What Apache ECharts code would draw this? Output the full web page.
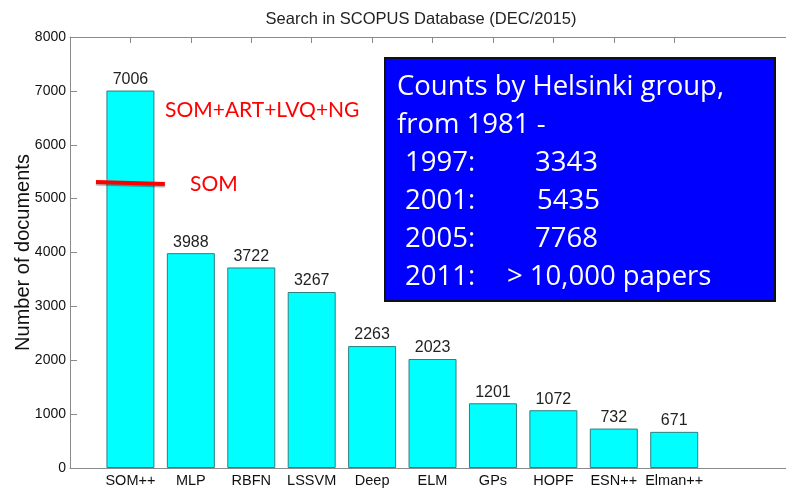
<!DOCTYPE html>
<html><head><meta charset="utf-8">
<script src="https://cdn.jsdelivr.net/npm/echarts@6/dist/echarts.min.js"></script>
<style>html,body{margin:0;padding:0;background:#fff}#c{width:786px;height:491px}</style>
</head><body><div id="c"></div>
<script>
const categories = ['SOM++','MLP','RBFN','LSSVM','Deep','ELM','GPs','HOPF','ESN++','Elman++'];
const counts = [7006,3988,3722,3267,2263,2023,1201,1072,732,671];
const yTicks = [0,1000,2000,3000,4000,5000,6000,7000,8000];
const boxLines = ['Counts by Helsinki group,','from 1981 -'];
const boxYears = ['1997:','2001:','2005:','2011:'];
const boxValues = ['3343','5435','7768','> 10,000 papers'];
const somLevel = 5290;

const chart = echarts.init(document.getElementById('c'));
const data = counts.map((v,i)=>[i+1,v]);
const catPos = categories.map((c,i)=>i+1);
const font = 'Liberation Sans, Arial, sans-serif';
const axisCol = '#8a8a8a';
const boxFont = '"Open Sans", sans-serif';
const redFont = 'Lato, sans-serif';
const BF = 27.5;
const off = 8;
const graphics = [
  {type:'rect', shape:{x:385,y:58,width:390,height:243}, style:{fill:'#0000ff', stroke:'#111', lineWidth:2}, z:10},
  {type:'text', x:397, y:95-off, style:{text:boxLines[0], fill:'#fff', font:BF+'px '+boxFont, textVerticalAlign:'middle'}, z:11},
  {type:'text', x:397, y:133-off, style:{text:boxLines[1], fill:'#fff', font:BF+'px '+boxFont, textVerticalAlign:'middle'}, z:11}
];
const valX = [535,537,535,507];
boxYears.forEach((y,i)=>{
  const by = 171 + i*38 - off;
  graphics.push({type:'text', x:405, y:by, style:{text:y, fill:'#fff', font:BF+'px '+boxFont, textVerticalAlign:'middle'}, z:11});
  graphics.push({type:'text', x:valX[i], y:by, style:{text:boxValues[i], fill:'#fff', font:BF+'px '+boxFont, textVerticalAlign:'middle'}, z:11});
});
graphics.push({type:'text', x:165, y:110, style:{text:'SOM+ART+LVQ+NG', fill:'#ff0000', font:'21px '+redFont, textVerticalAlign:'middle'}, z:11});
graphics.push({type:'text', x:190, y:184, style:{text:'SOM', fill:'#ff0000', font:'21px '+redFont, textVerticalAlign:'middle'}, z:11});

chart.setOption({
  animation:false,
  title:{text:'Search in SCOPUS Database (DEC/2015)', left:416, top:6, textAlign:'center',
    textStyle:{fontFamily:font, fontSize:16.5, fontWeight:'normal', color:'#222'}},
  grid:{left:70, right:0, top:37, bottom:23, containLabel:false, outerBoundsMode:'none'},
  xAxis:[
    {type:'value', min:0, max:11.85, interval:1, position:'bottom',
     axisLine:{lineStyle:{color:axisCol, width:1}},
     axisTick:{inside:true, length:6, lineStyle:{color:axisCol}, customValues:catPos},
     splitLine:{show:false},
     axisLabel:{margin:5, fontFamily:font, fontSize:14.5, color:'#111', customValues:catPos,
       formatter:v=>{const i=Math.round(v)-1;return (i>=0&&i<categories.length)?categories[i]:'';}}},
    {type:'value', min:0, max:11.85, interval:1, position:'top',
     axisLine:{lineStyle:{color:axisCol, width:1}},
     axisTick:{inside:true, length:6, lineStyle:{color:axisCol}, customValues:catPos},
     axisLabel:{show:false}, splitLine:{show:false}}
  ],
  yAxis:{type:'value', min:yTicks[0], max:yTicks[yTicks.length-1], interval:1000,
    name:'Number of documents', nameLocation:'middle', nameGap:37, nameRotate:90, nameMoveOverlap:false,
    nameTextStyle:{fontFamily:font, fontSize:20, color:'#111'},
    axisLine:{show:true, lineStyle:{color:axisCol}},
    axisTick:{show:true, inside:true, length:7, lineStyle:{color:axisCol}},
    axisLabel:{fontFamily:font, fontSize:14, color:'#111', margin:4, formatter:v=>String(v)},
    splitLine:{show:false}},
  series:[{
    type:'bar', data:data, barWidth:48,
    itemStyle:{color:'#00ffff', borderColor:'#2f7f7f', borderWidth:1},
    label:{show:true, position:'top', distance:3, fontFamily:font, fontSize:16, color:'#222',
      formatter:p=>p.value[1]},
    markLine:{silent:true, symbol:'none', label:{show:false},
      lineStyle:{color:'#ff0000', width:4, type:'solid', shadowColor:'rgba(0,0,0,0.35)', shadowOffsetY:1.5, shadowBlur:1},
      data:[[{coord:[0.43, somLevel+20]},{coord:[1.57, somLevel-20]}]]}
  }],
  graphic:graphics
});
</script></body></html>
